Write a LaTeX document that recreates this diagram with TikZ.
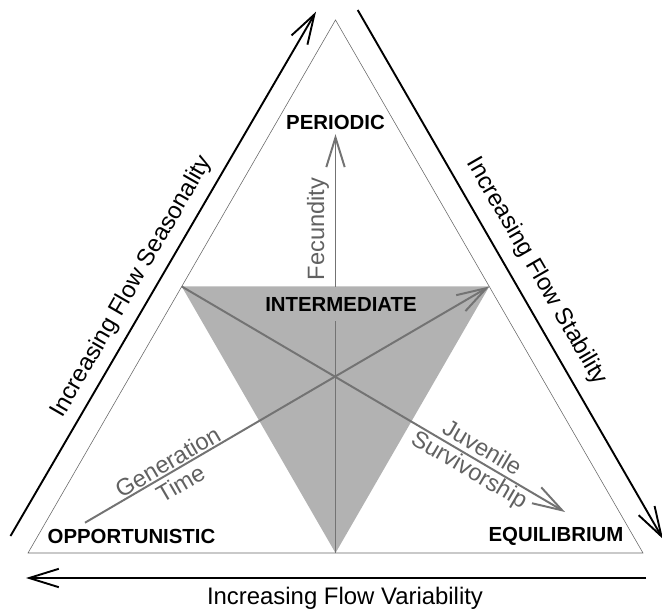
\documentclass[tikz,border=0pt]{standalone}
\usepackage{fontspec}
\setmainfont{Liberation Sans}
\usetikzlibrary{arrows.meta}
\tikzset{
  axisarrow/.style={line width=1.35pt,-{Straight Barb[length=0.74cm,width=0.46cm]}},
  traitarrow/.style={draw=black!55,line width=1.4pt,-{Straight Barb[length=0.74cm,width=0.46cm]}},
  strategy/.style={font=\fontsize{14.5}{16}\selectfont\bfseries},
  axislabel/.style={font=\fontsize{17}{18}\selectfont},
  traitlabel/.style={font=\fontsize{16.8}{17.8}\selectfont,text=black!62,align=center}
}
\begin{document}
\begin{tikzpicture}[x=0.025cm,y=0.025cm]
\useasboundingbox (0,0) rectangle (662,612);
% corners of the big triangle
\coordinate (P) at (335.5,592);
\coordinate (O) at (28,59);
\coordinate (E) at (643,59);
% corners of the shaded triangle
\coordinate (L) at (181.75,325.5);
\coordinate (R) at (489.25,325.5);
\coordinate (M) at (335.5,59);
\fill[black!30] (L)--(R)--(M)--cycle;
\draw[black!60,line width=0.4pt] (P)--(O)--(E)--cycle;
% axis arrows
\coordinate (s1) at (10.5,76);
\coordinate (s2) at (316,600.3);
\coordinate (t1) at (357.7,602);
\coordinate (t2) at (663,73);
\coordinate (v1) at (646,34);
\coordinate (v2) at (26,34);
\draw[axisarrow] (s1)--(s2);
\draw[axisarrow] (t1)--(t2);
\draw[axisarrow] (v1)--(v2);
\node[axislabel,rotate=60] (season) at (132,325) {Increasing Flow Seasonality};
\node[axislabel,rotate=-60] (stab) at (536.7,340.5) {Increasing Flow Stability};
\node[axislabel] (var) at (345,13.5) {Increasing Flow Variability};
% strategies
\node[strategy] (periodic) at (335.5,490) {PERIODIC};
\node[strategy] (opp) at (131.5,75.5) {OPPORTUNISTIC};
\node[strategy] (equi) at (556,75.5) {EQUILIBRIUM};
% traits
\coordinate (g1) at (85,89.3);
\coordinate (j2) at (565,100);
\draw[traitarrow] (M)--(periodic.south);
\draw[traitarrow] (g1)--(R);
\draw[traitarrow] (L)--(j2);
\node[strategy,fill=black!30,inner ysep=0.24cm] (inter) at (341,308) {INTERMEDIATE};
\node[traitlabel,rotate=90] (fec) at (318,383) {Fecundity};
\node[traitlabel,rotate=30.3] (gen) at (174,139.5) {Generation\\Time};
\node[traitlabel,rotate=-30.4] (juv) at (475,152) {Juvenile\\Survivorship};
\end{tikzpicture}
\end{document}
